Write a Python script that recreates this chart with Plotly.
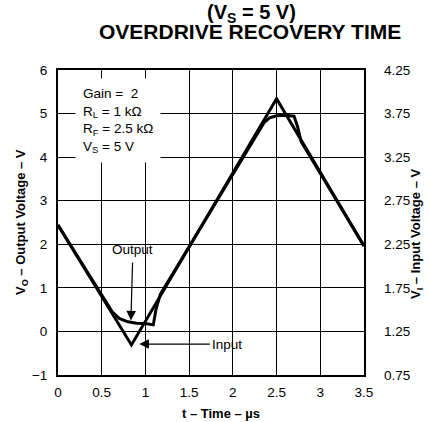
import plotly.graph_objects as go

# ---- data ----
input_t = [0.0, 0.84, 2.5, 3.5]
input_v = [2.47, 1.095, 3.92, 2.23]          # V_I (right axis)

output_t = [0.0, 0.62, 0.70, 0.80, 0.90, 1.00, 1.09, 1.12, 1.17,
            2.30, 2.36, 2.42, 2.50, 2.60, 2.70, 2.74, 2.78, 3.5]
output_v = [2.44, 0.45, 0.30, 0.22, 0.19, 0.18, 0.15, 0.50, 0.85,
            4.62, 4.80, 4.90, 4.95, 4.96, 4.94, 4.70, 4.36, 1.96]   # V_O (left axis)

x_ticks = [0, 0.5, 1, 1.5, 2, 2.5, 3, 3.5]
x_ticktext = ["0", "0.5", "1", "1.5", "2", "2.5", "3", "3.5"]
y_ticks = [-1, 0, 1, 2, 3, 4, 5, 6]
y_ticktext = ["\u22121", "0", "1", "2", "3", "4", "5", "6"]
y2_ticks = [0.75, 1.25, 1.75, 2.25, 2.75, 3.25, 3.75, 4.25]
y2_ticktext = ["0.75", "1.25", "1.75", "2.25", "2.75", "3.25", "3.75", "4.25"]

FONT = "Liberation Sans, Arial, sans-serif"

fig = go.Figure()
fig.add_trace(go.Scatter(x=output_t, y=output_v, mode="lines",
                         line=dict(color="black", width=3), yaxis="y",
                         showlegend=False, hoverinfo="skip"))
fig.add_trace(go.Scatter(x=input_t, y=input_v, mode="lines",
                         line=dict(color="black", width=3), yaxis="y2",
                         showlegend=False, hoverinfo="skip"))

L, R, T, B = 58, 66, 70, 47
W, H = 430, 422
pw, ph = W - L - R, H - T - B

def px(xp):
    return (xp - L) / pw

def py(yp):
    return (H - B - yp) / ph

axis_common = dict(showgrid=True, gridcolor="black", gridwidth=1,
                   showline=True, linecolor="black", linewidth=2, mirror=True,
                   zeroline=False, ticks="", tickfont=dict(size=13.5, color="black", family=FONT))

fig.update_layout(
    width=W, height=H, autosize=False,
    margin=dict(l=L, r=R, t=T, b=B, pad=0),
    paper_bgcolor="white", plot_bgcolor="white",
    font=dict(family=FONT, color="black"),
    xaxis=dict(range=[0, 3.5], tickvals=x_ticks, ticktext=x_ticktext,
               ticklabelstandoff=4, automargin=False, **axis_common),
    yaxis=dict(range=[-1, 6], tickvals=y_ticks, ticktext=y_ticktext,
               ticklabelstandoff=6, automargin=False, **axis_common),
    yaxis2=dict(range=[0.75, 4.25], tickvals=y2_ticks, ticktext=y2_ticktext,
                overlaying="y", side="right", showgrid=False, zeroline=False,
                showline=False, ticks="", ticklabelstandoff=19, automargin=False,
                tickfont=dict(size=13.5, color="black", family=FONT)),
)

ann = []
# titles
ann.append(dict(text="<b>(V<sub>S</sub> = 5 V)</b>", xref="paper", yref="paper",
                x=px(251), y=py(13.5), xanchor="center", yanchor="middle",
                showarrow=False, font=dict(size=20, family=FONT)))
ann.append(dict(text="<b>OVERDRIVE RECOVERY TIME</b>", xref="paper", yref="paper",
                x=px(250), y=py(31), xanchor="center", yanchor="middle",
                showarrow=False, font=dict(size=21, family=FONT)))
# axis titles
ann.append(dict(text="<b>t \u2013 Time \u2013 \u00b5s</b>", xref="paper", yref="paper",
                x=px(221), y=py(413), xanchor="center", yanchor="middle",
                showarrow=False, font=dict(size=13, family=FONT)))
ann.append(dict(text="<b>V<sub>O</sub> \u2013 Output Voltage \u2013 V</b>", xref="paper", yref="paper",
                x=px(21), y=py(222), xanchor="center", yanchor="middle", textangle=-90,
                showarrow=False, font=dict(size=13, family=FONT)))
ann.append(dict(text="<b>V<sub>I</sub> \u2013 Input Voltage \u2013 V</b>", xref="paper", yref="paper",
                x=px(416), y=py(234), xanchor="center", yanchor="middle", textangle=-90,
                showarrow=False, font=dict(size=13, family=FONT)))
# condition box
ann.append(dict(text="Gain =  2<br>R<sub>L</sub> = 1 k\u03a9<br>R<sub>F</sub> = 2.5 k\u03a9<br>V<sub>S</sub> = 5 V",
                xref="paper", yref="paper", x=px(75), y=py(78), xanchor="left", yanchor="top",
                align="left", showarrow=False, bgcolor="white", borderpad=7,
                font=dict(size=13.5, family=FONT)))
# Output arrow
ann.append(dict(text="Output", xref="x", yref="y", x=0.834, y=0.25,
                ax=2, ay=-71, showarrow=True, arrowhead=2, arrowsize=1.6,
                arrowwidth=1.2, arrowcolor="black", standoff=0, borderpad=5,
                font=dict(size=13.5, family=FONT)))
# Input arrow
ann.append(dict(text="Input", xref="x", yref="y", x=0.93, y=-0.29,
                ax=88, ay=0, showarrow=True, arrowhead=2, arrowsize=1.6,
                arrowwidth=1.2, arrowcolor="black", standoff=0, borderpad=2,
                font=dict(size=13.5, family=FONT)))
fig.update_layout(annotations=ann)

fig.write_html("out.html", config={"displayModeBar": False},
               post_script="document.body.style.margin='0';document.body.style.padding='0';")
